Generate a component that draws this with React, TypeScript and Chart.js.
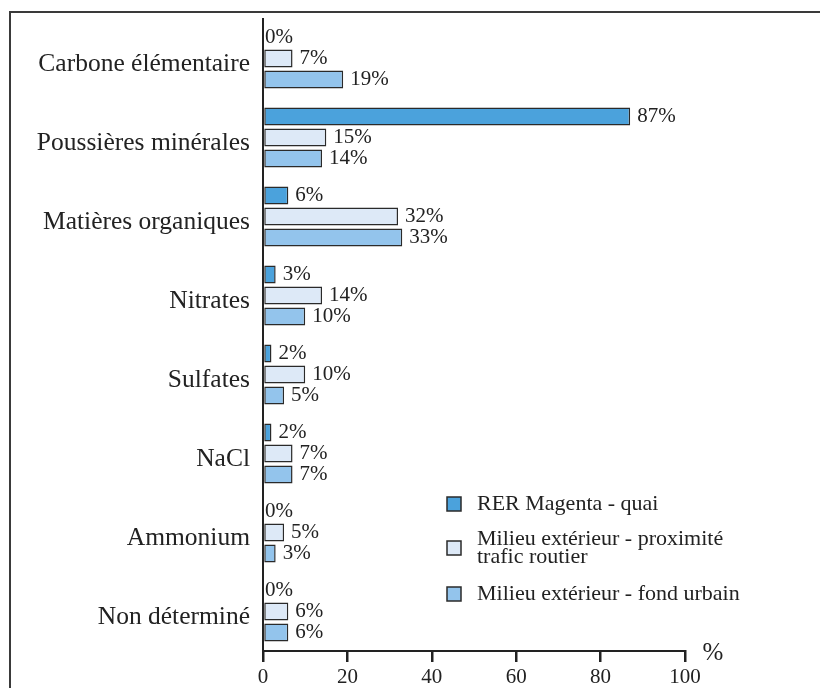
import { useEffect, useRef } from "react";
import { Chart, registerables } from "chart.js";
Chart.register(...registerables);

const categories = [
  "Carbone élémentaire",
  "Poussières minérales",
  "Matières organiques",
  "Nitrates",
  "Sulfates",
  "NaCl",
  "Ammonium",
  "Non déterminé",
];
const rerQuai = [0, 87, 6, 3, 2, 2, 0, 0];
const proxTrafic = [7, 15, 32, 14, 10, 7, 5, 6];
const fondUrbain = [19, 14, 33, 10, 5, 7, 3, 6];
const seriesLabels = [
  "RER Magenta - quai",
  "Milieu extérieur - proximité trafic routier",
  "Milieu extérieur - fond urbain",
];
const legendLines = [
  ["RER Magenta - quai"],
  ["Milieu extérieur - proximité", "trafic routier"],
  ["Milieu extérieur - fond urbain"],
];
const xTicks = [0, 20, 40, 60, 80, 100];
const axisUnit = "%";

export default function App() {
  const ref = useRef<HTMLCanvasElement>(null);

  useEffect(() => {
    document.body.style.margin = "0";
    document.body.style.overflow = "hidden";
    const serif = "'Liberation Serif', 'Times New Roman', serif";
    const textColor = "#222";
    const colors = ["#4ba2dc", "#dde9f7", "#93c4ec"];
    const edge = "#2a2a2a";

    const annot = {
      id: "annot",
      afterDatasetsDraw(chart: any) {
        const ctx = chart.ctx;
        ctx.save();
        ctx.fillStyle = textColor;
        ctx.textBaseline = "middle";
        ctx.textAlign = "left";
        ctx.font = `21px ${serif}`;
        chart.data.datasets.forEach((ds: any, di: number) => {
          const meta = chart.getDatasetMeta(di);
          meta.data.forEach((el: any, i: number) => {
            const v = ds.data[i];
            ctx.fillText(`${v}%`, el.x + (v === 0 ? 2 : 7), el.y);
          });
        });
        // axis unit
        const xs = chart.scales.x;
        ctx.font = `25px ${serif}`;
        ctx.textAlign = "center";
        ctx.fillText(axisUnit, xs.right + 28, xs.top + 2);
        // legend
        const lx = 447;
        const centers = [504, 548, 594];
        ctx.font = `22px ${serif}`;
        ctx.textAlign = "left";
        legendLines.forEach((lines, i) => {
          const cy = centers[i];
          ctx.fillStyle = colors[i];
          ctx.fillRect(lx, cy - 7, 14, 14);
          ctx.strokeStyle = edge;
          ctx.lineWidth = 1.5;
          ctx.strokeRect(lx, cy - 7, 14, 14);
          ctx.fillStyle = textColor;
          const lh = 18;
          const y0 = cy - ((lines.length - 1) * lh) / 2;
          lines.forEach((t, k) => ctx.fillText(t, lx + 30, y0 + k * lh));
        });
        ctx.restore();
      },
    };

    const mk = (label: string, data: number[], color: string) => ({
      label,
      data,
      backgroundColor: color,
      borderColor: edge,
      borderWidth: (c: any) => (c.raw === 0 ? 0 : 1.5),
      borderSkipped: false,
      barPercentage: 0.85,
      categoryPercentage: 0.8,
    });

    const chart = new Chart(ref.current!, {
      type: "bar",
      data: {
        labels: categories,
        datasets: [
          mk(seriesLabels[0], rerQuai, colors[0]),
          mk(seriesLabels[1], proxTrafic, colors[1]),
          mk(seriesLabels[2], fondUrbain, colors[2]),
        ],
      },
      options: {
        indexAxis: "y",
        responsive: true,
        maintainAspectRatio: false,
        animation: false,
        layout: { padding: { top: 19, right: 135, left: 0, bottom: 0 } },
        plugins: { legend: { display: false }, tooltip: { enabled: false } },
        scales: {
          y: {
            type: "category",
            offset: true,
            grid: { display: false, drawTicks: false },
            border: { display: true, color: "#222", width: 2 },
            ticks: {
              font: { family: serif, size: 25.5 },
              color: textColor,
              padding: 13,
              labelOffset: 6,
              autoSkip: false,
            },
            afterFit: (s: any) => {
              s.width = 263;
              s.paddingTop = 0;
              s.paddingBottom = 0;
            },
          },
          x: {
            type: "linear",
            min: 0,
            max: 100,
            afterBuildTicks: (s: any) => {
              s.ticks = xTicks.map((v) => ({ value: v }));
            },
            grid: {
              drawOnChartArea: false,
              drawTicks: true,
              tickLength: 11,
              color: "#222",
              lineWidth: 2.5,
            },
            border: { display: true, color: "#222", width: 2 },
            ticks: {
              font: { family: serif, size: 21 },
              color: textColor,
              padding: 3,
            },
            afterFit: (s: any) => {
              s.height = 37;
              s.paddingLeft = 0;
              s.paddingRight = 0;
            },
          },
        },
      } as any,
      plugins: [annot],
    });
    return () => chart.destroy();
  }, []);

  return (
    <div>
      <div
        style={{
          position: "fixed",
          left: 9,
          top: 11,
          width: 2000,
          height: 2000,
          border: "2px solid #3a3a3a",
        }}
      />
      <div style={{ position: "fixed", left: 0, top: 0, width: 820, height: 688 }}>
        <canvas ref={ref} />
      </div>
    </div>
  );
}
